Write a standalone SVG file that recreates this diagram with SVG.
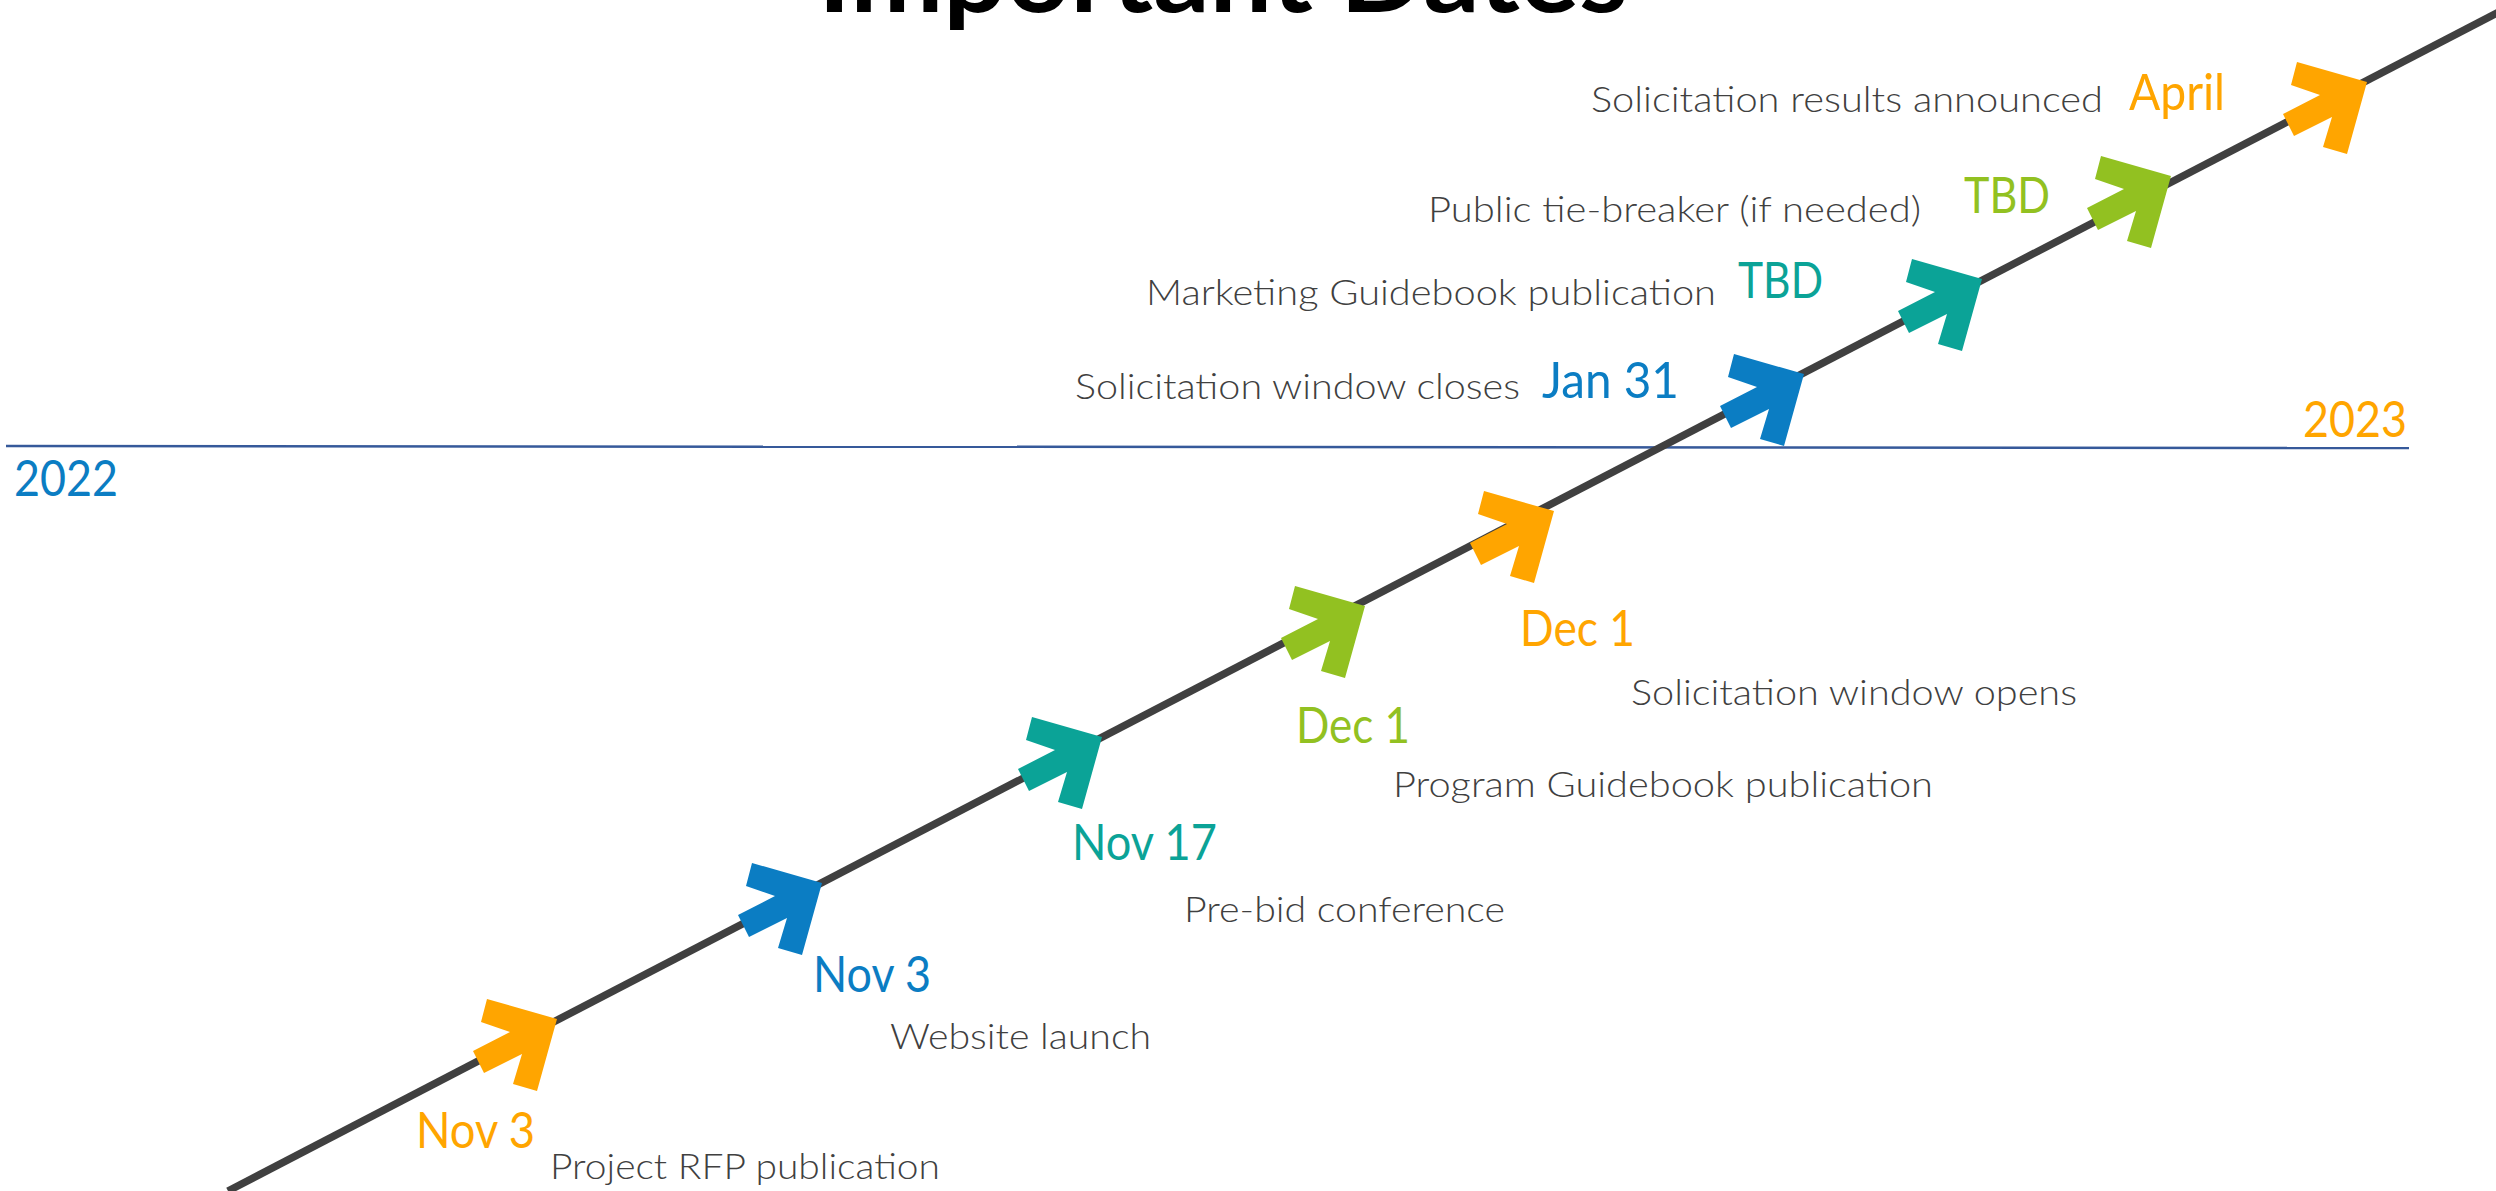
<svg xmlns="http://www.w3.org/2000/svg" xmlns:xlink="http://www.w3.org/1999/xlink" width="2496" height="1191" viewBox="0 0 2496 1191">
<style>
.desc{font-family:Lato,"Liberation Sans",sans-serif;font-weight:300;font-size:36px;fill:#404040}
.date{font-family:Lato,"Liberation Sans",sans-serif;font-weight:400;font-size:50px}
.title{font-family:Lato,"Liberation Sans",sans-serif;font-weight:700;font-size:105px;fill:#000}
.orange{fill:#FFA500}
.blue{fill:#0B7DC3}
.teal{fill:#0BA397}
.green{fill:#92C121}
</style>
<defs>
<path id="arr" d="M0,0 L-20,72 L-44,65 L-35,35 L-73,54 L-84,32 L-47,13 L-76,3 L-70,-20 Z"/>
</defs>
<rect width="2496" height="1191" fill="#fff"/>
<text class="title" x="818" y="12" textLength="810" lengthAdjust="spacingAndGlyphs">Important Dates</text>
<g id="divider">
<line x1="6" y1="446" x2="2409" y2="448" stroke="#36599A" stroke-width="2.5"/>
<text class="date blue" x="14" y="496" textLength="104" lengthAdjust="spacingAndGlyphs">2022</text>
<text class="date orange" x="2303" y="437" textLength="104" lengthAdjust="spacingAndGlyphs">2023</text>
</g>
<g id="connectors">
<line x1="228" y1="1191" x2="2520" y2="1" stroke="#404040" stroke-width="7.5"/>
</g>
<g id="n1">
<use xlink:href="#arr" x="557" y="1019" class="orange"/>
<text class="date orange" x="416" y="1148" textLength="119" lengthAdjust="spacingAndGlyphs">Nov 3</text>
<text class="desc" x="550" y="1179" textLength="390" lengthAdjust="spacingAndGlyphs">Project RFP publication</text>
</g>
<g id="n2">
<use xlink:href="#arr" x="822" y="883" class="blue"/>
<text class="date blue" x="813" y="992" textLength="118" lengthAdjust="spacingAndGlyphs">Nov 3</text>
<text class="desc" x="890" y="1049" textLength="261" lengthAdjust="spacingAndGlyphs">Website launch</text>
</g>
<g id="n3">
<use xlink:href="#arr" x="1102" y="737" class="teal"/>
<text class="date teal" x="1072" y="860" textLength="145" lengthAdjust="spacingAndGlyphs">Nov 17</text>
<text class="desc" x="1184" y="922" textLength="321" lengthAdjust="spacingAndGlyphs">Pre-bid conference</text>
</g>
<g id="n4">
<use xlink:href="#arr" x="1365" y="606" class="green"/>
<text class="date green" x="1296" y="743" textLength="114" lengthAdjust="spacingAndGlyphs">Dec 1</text>
<text class="desc" x="1393" y="797" textLength="540" lengthAdjust="spacingAndGlyphs">Program Guidebook publication</text>
</g>
<g id="n5">
<use xlink:href="#arr" x="1554" y="511" class="orange"/>
<text class="date orange" x="1520" y="646" textLength="115" lengthAdjust="spacingAndGlyphs">Dec 1</text>
<text class="desc" x="1631" y="705" textLength="446" lengthAdjust="spacingAndGlyphs">Solicitation window opens</text>
</g>
<g id="n6">
<use xlink:href="#arr" x="1804" y="374" class="blue"/>
<text class="date blue" x="1542" y="398" textLength="137" lengthAdjust="spacingAndGlyphs">Jan 31</text>
<text class="desc" x="1075" y="399" textLength="445" lengthAdjust="spacingAndGlyphs">Solicitation window closes</text>
</g>
<g id="n7">
<use xlink:href="#arr" x="1982" y="279" class="teal"/>
<text class="date teal" x="1738" y="298" textLength="85" lengthAdjust="spacingAndGlyphs">TBD</text>
<text class="desc" x="1146" y="305" textLength="570" lengthAdjust="spacingAndGlyphs">Marketing Guidebook publication</text>
</g>
<g id="n8">
<use xlink:href="#arr" x="2171" y="176" class="green"/>
<text class="date green" x="1964" y="213" textLength="86" lengthAdjust="spacingAndGlyphs">TBD</text>
<text class="desc" x="1428" y="222" textLength="493" lengthAdjust="spacingAndGlyphs">Public tie-breaker (if needed)</text>
</g>
<g id="n9">
<use xlink:href="#arr" x="2367" y="82" class="orange"/>
<text class="date orange" x="2129" y="110" textLength="96" lengthAdjust="spacingAndGlyphs">April</text>
<text class="desc" x="1591" y="112" textLength="512" lengthAdjust="spacingAndGlyphs">Solicitation results announced</text>
</g>
</svg>
